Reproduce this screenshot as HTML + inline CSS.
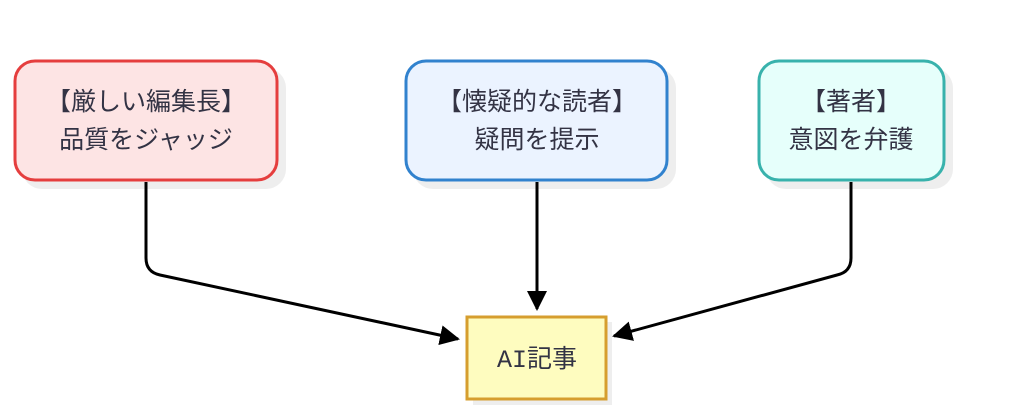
<!DOCTYPE html>
<html><head><meta charset="utf-8"><style>
body{margin:0;background:#fff;}
svg text{font-family:"Liberation Sans","Noto Sans CJK JP",sans-serif;font-size:25px;fill:#333344;text-anchor:middle;}
</style></head><body>
<svg width="1024" height="414" viewBox="0 0 1024 414" xmlns="http://www.w3.org/2000/svg">
<defs>
<marker id="b" markerWidth="20" markerHeight="20" refX="18" refY="10" orient="auto" markerUnits="userSpaceOnUse" viewBox="0 0 20 20"><path d="M0,0 L20,10 L0,20 z" fill="#000"/></marker></defs>
<rect x="22" y="68" width="264" height="121" rx="20" fill="#eeeeee"/>
<rect x="413" y="68" width="263" height="121" rx="20" fill="#eeeeee"/>
<rect x="766" y="68" width="187" height="121" rx="20" fill="#eeeeee"/>
<rect x="473" y="322" width="139" height="83" fill="#eeeeee"/>
<path d="M146,182 V258 Q146,272 160,275 L458,339" stroke="#000" stroke-width="3" fill="none" marker-end="url(#b)"/>
<path d="M537,182 V309" stroke="#000" stroke-width="3" fill="none" marker-end="url(#b)"/>
<path d="M851,182 V258 Q851,272 837,275 L614,336" stroke="#000" stroke-width="3" fill="none" marker-end="url(#b)"/>
<rect x="15" y="61" width="262" height="119" rx="20" fill="#fde4e4" stroke="#e53e3e" stroke-width="3"/>
<rect x="406" y="61" width="261" height="119" rx="20" fill="#ebf3ff" stroke="#3182ce" stroke-width="3"/>
<rect x="759" y="61" width="185" height="119" rx="20" fill="#e6fffb" stroke="#38b2ac" stroke-width="3"/>
<rect x="467" y="317" width="139" height="82" fill="#fefcbf" stroke="#d69e2e" stroke-width="3"/>
<text x="146" y="110">【厳しい編集長】</text>
<text x="146" y="148">品質をジャッジ</text>
<text x="537" y="110">【懐疑的な読者】</text>
<text x="537" y="148">疑問を提示</text>
<text x="851" y="110">【著者】</text>
<text x="851" y="148">意図を弁護</text>
<text x="537" y="367" style="font-family:'Liberation Mono','Noto Sans CJK JP',monospace">AI記事</text>
</svg>
</body></html>
